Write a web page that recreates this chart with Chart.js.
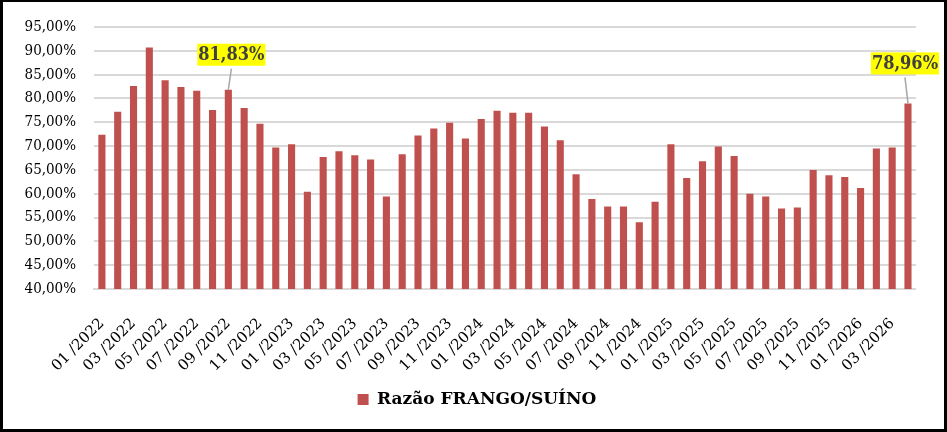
<!DOCTYPE html>
<html>
<head>
<meta charset="utf-8">
<script src="https://cdn.jsdelivr.net/npm/chart.js@4.4.1/dist/chart.umd.min.js"></script>
<style>
html,body{margin:0;padding:0;background:#fff;}
#wrap{position:relative;width:947px;height:432px;}
canvas{display:block;}
</style>
</head>
<body>
<div id="wrap"><canvas id="c" width="947" height="432"></canvas></div>
<script>
const categories = [
 "01/2022","02/2022","03/2022","04/2022","05/2022","06/2022","07/2022","08/2022","09/2022","10/2022","11/2022","12/2022",
 "01/2023","02/2023","03/2023","04/2023","05/2023","06/2023","07/2023","08/2023","09/2023","10/2023","11/2023","12/2023",
 "01/2024","02/2024","03/2024","04/2024","05/2024","06/2024","07/2024","08/2024","09/2024","10/2024","11/2024","12/2024",
 "01/2025","02/2025","03/2025","04/2025","05/2025","06/2025","07/2025","08/2025","09/2025","10/2025","11/2025","12/2025",
 "01/2026","02/2026","03/2026","04/2026"
];
const ratioValues = [
 72.4,77.2,82.6,90.7,83.8,82.4,81.6,77.6,81.83,78.0,74.7,69.7,
 70.4,60.4,67.7,68.9,68.1,67.2,59.4,68.3,72.2,73.7,74.9,71.6,
 75.7,77.4,77.0,77.0,74.1,71.2,64.1,58.9,57.3,57.3,54.0,58.3,
 70.4,63.3,66.8,69.9,67.9,60.0,59.4,56.9,57.1,65.0,63.9,63.5,
 61.2,69.5,69.7,78.96
];
const seriesName = "Razão FRANGO/SUÍNO";
const annotatedIndices = [8, 51];

const fmt = v => v.toFixed(2).replace('.', ',') + '%';
const FONT_C = "'DejaVu Serif Condensed', 'DejaVu Serif', serif";
const FONT = "'DejaVu Serif', serif";

const annotationStyle = { 8: {dx: 3, gap: 24}, 51: {dx: -3, gap: 29} };

const calloutPlugin = {
  id: 'callouts',
  afterLayout(chart) {
    const l = chart.legend;
    if (l) { l.left += 11; l.right += 11; }
  },
  afterDatasetsDraw(chart) {
    const ctx = chart.ctx;
    const meta = chart.getDatasetMeta(0);
    ctx.save();
    annotatedIndices.forEach(i => {
      const el = meta.data[i];
      const st = annotationStyle[i];
      const x = el.x, y = el.y;
      const text = fmt(ratioValues[i]);
      ctx.font = "bold 18px " + FONT_C;
      const w = ctx.measureText(text).width + 2;
      const h = 22;
      const cx = x + st.dx;
      const bottom = y - st.gap;
      ctx.strokeStyle = '#a6a6a6';
      ctx.lineWidth = 1.5;
      ctx.beginPath();
      ctx.moveTo(x, y);
      ctx.lineTo(cx, bottom + 3);
      ctx.stroke();
      ctx.fillStyle = '#ffff00';
      ctx.fillRect(cx - w/2, bottom - h, w, h);
      ctx.fillStyle = '#404040';
      ctx.textAlign = 'center';
      ctx.textBaseline = 'middle';
      ctx.fillText(text, cx, bottom - h/2 + 1);
    });
    ctx.restore();
  },
  afterDraw(chart) {
    const ctx = chart.ctx;
    ctx.save();
    ctx.fillStyle = '#000';
    ctx.fillRect(0, 0, 947, 2);
    ctx.fillRect(0, 0, 3, 432);
    ctx.fillRect(944, 0, 3, 432);
    ctx.fillRect(0, 429, 947, 3);
    ctx.restore();
  }
};

new Chart(document.getElementById('c'), {
  type: 'bar',
  data: {
    labels: categories,
    datasets: [{
      label: seriesName,
      data: ratioValues,
      backgroundColor: '#c0504d',
      borderWidth: 0,
      categoryPercentage: 1.0,
      barPercentage: 0.45
    }]
  },
  options: {
    responsive: false,
    animation: false,
    layout: { padding: { top: 24, left: 15, right: 30, bottom: 14 } },
    plugins: {
      legend: {
        position: 'bottom',
        labels: {
          boxWidth: 11, boxHeight: 11,
          color: '#000',
          font: { family: FONT, size: 17, weight: 'bold' },
          padding: 10
        }
      },
      tooltip: { enabled: false }
    },
    scales: {
      x: {
        afterFit: s => { s.height = 92; },
        grid: { display: false, drawTicks: false },
        border: { display: true, color: '#d9d9d9', width: 2 },
        ticks: {
          autoSkip: false,
          minRotation: 45, maxRotation: 45,
          padding: 26,
          color: '#000',
          font: { family: FONT, size: 15 },
          callback: function(v, i) { return i % 2 === 0 ? categories[i].replace('/', ' /') : ''; }
        }
      },
      y: {
        afterFit: s => { s.width = 79; },
        min: 40, max: 95,
        grid: { color: '#d9d9d9', lineWidth: 2, drawTicks: false },
        border: { display: false },
        ticks: {
          stepSize: 5,
          padding: 18,
          color: '#000',
          font: { family: FONT_C, size: 15 },
          callback: v => fmt(v)
        }
      }
    }
  },
  plugins: [calloutPlugin]
});
</script>
</body>
</html>
